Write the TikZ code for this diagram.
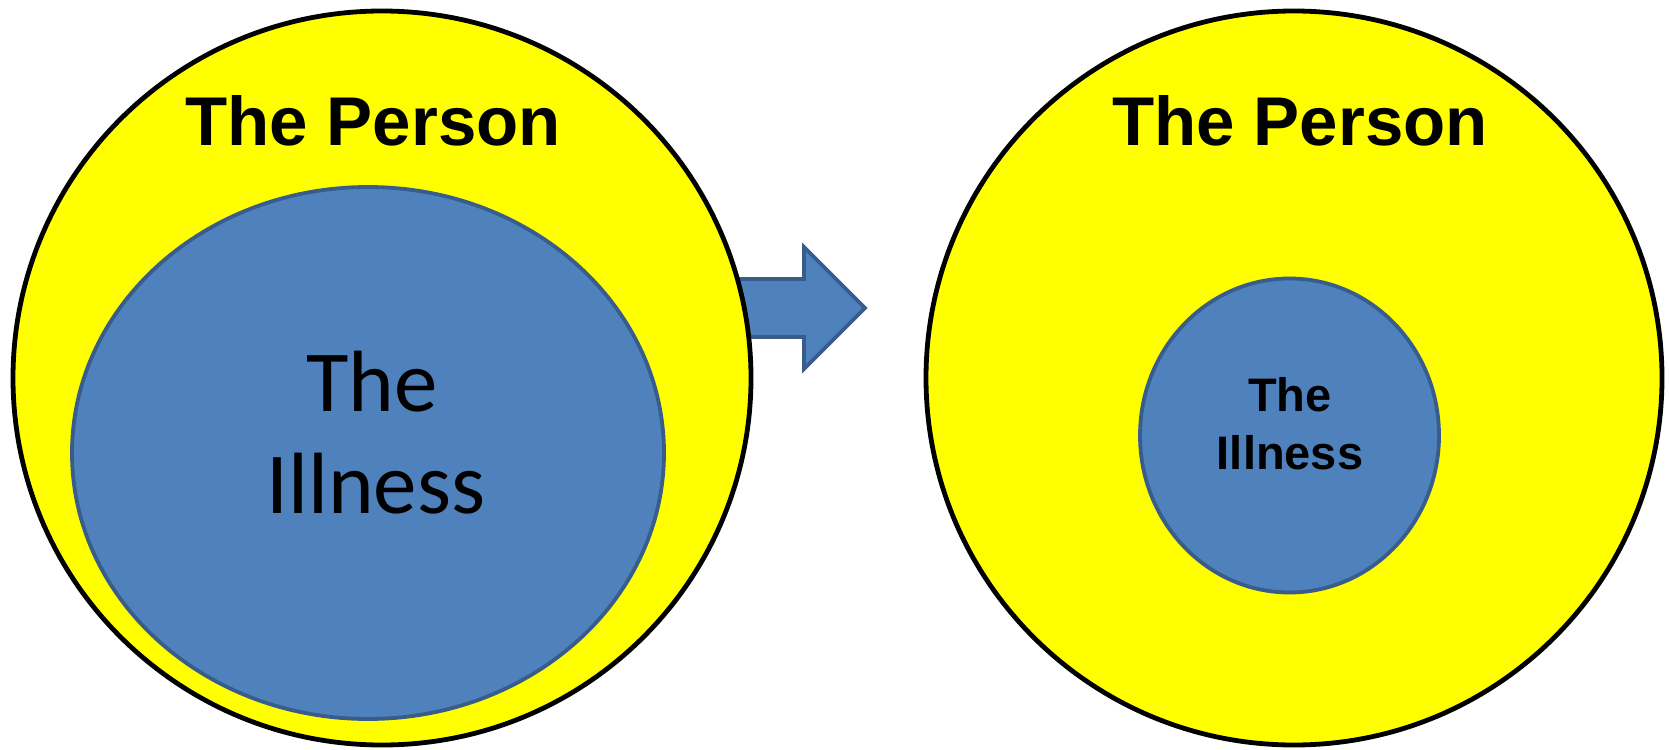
\documentclass[tikz,border=0pt]{standalone}
\usepackage{fontspec}
\setmainfont{Liberation Sans}
\newfontfamily\calib{Carlito}
\definecolor{personfill}{HTML}{FFFF00}
\definecolor{illfill}{HTML}{4F81BD}
\definecolor{illline}{HTML}{385D8A}
\begin{document}
\begin{tikzpicture}[x=1pt,y=-1pt,
  person/.style={draw=black,line width=4.8pt,fill=personfill},
  illness/.style={draw=illline,line width=3.8pt,fill=illfill},
  boldlabel/.style={anchor=base,inner sep=0pt,font=\bfseries\fontsize{69}{80}\selectfont},
  smallbold/.style={anchor=base,inner sep=0pt,font=\bfseries\fontsize{47}{56}\selectfont},
  biglabel/.style={anchor=base,inner sep=0pt,font=\calib\fontsize{87}{102}\selectfont}]
\useasboundingbox (0,0) rectangle (1669,749);

% block arrow between the two pictures (partly hidden behind the left circle)
\draw[illness,line join=miter] (690,279) -- (804,279) -- (804,247) -- (865,308)
  -- (804,369) -- (804,337) -- (690,337) -- cycle;

% left: the illness fills most of the person
\draw[person] (382,378) ellipse [x radius=369, y radius=367];
\draw[illness] (368,453) ellipse [x radius=296, y radius=266];
\node[boldlabel] (lp) at (373,145) {The Person};
\node[biglabel] (lt) at (372,411) {The};
\node[biglabel] (li) at (376,513) {Illness};

% right: the person has grown around a smaller illness
\draw[person] (1294,378) ellipse [x radius=368, y radius=367];
\draw[illness] (1289.5,435.5) ellipse [x radius=149.5, y radius=157];
\node[boldlabel] (rp) at (1300,145) {The Person};
\node[smallbold] (rt) at (1290,411) {The};
\node[smallbold] (ri) at (1290,469) {Illness};
\end{tikzpicture}
\end{document}
